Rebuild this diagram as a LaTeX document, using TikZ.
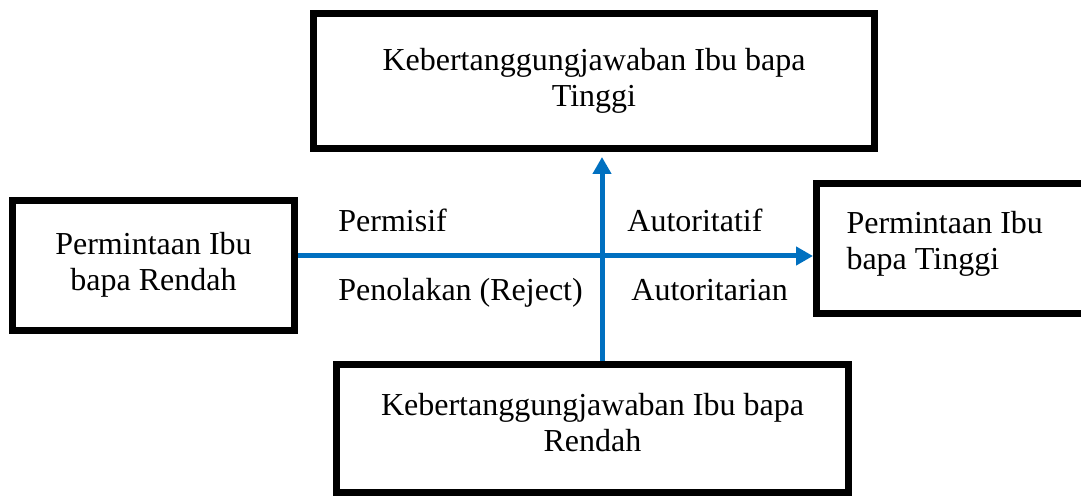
\documentclass[tikz,border=0pt]{standalone}
\usepackage{fontspec}
\setmainfont{Liberation Serif}
\usepackage{tikz}
\usetikzlibrary{arrows.meta,calc,positioning}
\definecolor{axisblue}{HTML}{0070C0}

\begin{document}
\begin{tikzpicture}[x=0.5pt,y=-0.5pt,
    box/.style={draw,line width=3.5pt,align=center,inner sep=0pt,font=\fontsize{16}{18}\selectfont},
    axis/.style={line width=2.5pt,axisblue,-{Triangle[length=8.5pt,width=9pt]}},
    lbl/.style={anchor=base west,inner sep=0pt,font=\fontsize{16}{18}\selectfont}]
  \useasboundingbox (0,0) rectangle (1081,497);
  % four boxes
  \node[box,minimum width=280.5pt,minimum height=67.5pt] (high) at (594,81) {Kebertanggungjawaban Ibu bapa\\Tinggi};
  \node[box,minimum width=256pt,minimum height=64pt,text depth=6pt] (low) at (592.5,428.5) {Kebertanggungjawaban Ibu bapa\\Rendah};
  \node[box,minimum width=141pt,minimum height=65pt,text depth=4pt] (demlow) at (153.5,265.5) {Permintaan Ibu\\bapa Rendah};
  \node[box,anchor=west,minimum width=150pt,minimum height=65pt,text width=120pt,align=flush left,inner xsep=13.25pt,text depth=26pt] (demhigh) at (813,248.5) {Permintaan Ibu\\bapa Tinggi};
  % axes
  \coordinate (cross) at (602,256);
  \draw[axis] (demlow.east |- cross) -- (demhigh.west |- cross);
  \draw[axis,shorten >=2.5pt] (low.north -| cross) -- (high.south -| cross);
  % quadrant names
  \node[lbl] (perm) at (338,232) {Permisif};
  \node[lbl] (autf) at (627,232) {Autoritatif};
  \node[lbl] (rej) at (338,300) {Penolakan (Reject)};
  \node[lbl] (autr) at (631,300) {Autoritarian};
\end{tikzpicture}
\end{document}
